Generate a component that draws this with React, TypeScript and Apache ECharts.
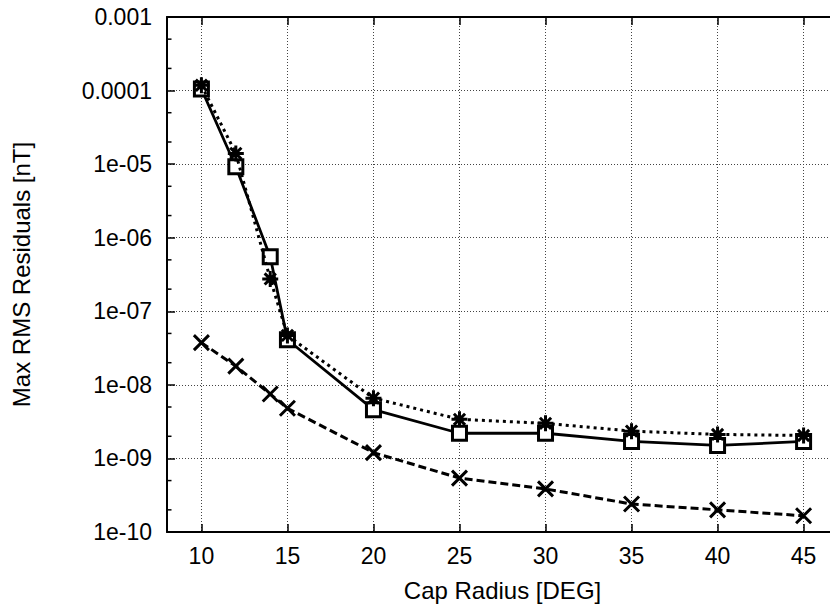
import { useEffect, useRef } from "react";
import * as echarts from "echarts";

// ---- data ----
const capRadius = [10, 12, 14, 15, 20, 25, 30, 35, 40, 45];
const squareValues = [1.05e-4, 9.2e-6, 5.5e-7, 4.1e-8, 4.6e-9, 2.2e-9, 2.2e-9, 1.7e-9, 1.5e-9, 1.7e-9];
const starValues = [1.18e-4, 1.4e-5, 2.75e-7, 4.7e-8, 6.6e-9, 3.4e-9, 3.0e-9, 2.35e-9, 2.12e-9, 2.05e-9];
const crossValues = [3.75e-8, 1.8e-8, 7.5e-9, 4.8e-9, 1.2e-9, 5.4e-10, 3.85e-10, 2.4e-10, 2.0e-10, 1.66e-10];
const xTicks = [10, 15, 20, 25, 30, 35, 40, 45];
const yTickLabels = ["1e-10", "1e-09", "1e-08", "1e-07", "1e-06", "1e-05", "0.0001", "0.001"];
const yMinorTicks = [
  2e-10, 5e-10, 2e-9, 5e-9, 2e-8, 5e-8, 2e-7, 5e-7, 2e-6, 5e-6, 2e-5, 5e-5, 2e-4, 5e-4,
];
const X_MIN = 8;
const X_MAX = 47;
const Y_MIN = 1e-10;
const Y_MAX = 1e-3;

const FONT = "'Liberation Sans', Arial, Helvetica, sans-serif";

export default function App() {
  const ref = useRef<HTMLDivElement>(null);

  useEffect(() => {
    if (!ref.current) return;
    const chart = echarts.init(ref.current, undefined, { renderer: "svg" });

    const gridLine = { color: "#444", width: 1, type: [1, 2] as number[] };
    const axisLineStyle = { color: "#000", width: 2 };

    const option: any = {
      animation: false,
      backgroundColor: "#fff",
      textStyle: { fontFamily: FONT, color: "#000" },
      grid: {
        left: 167,
        right: -8,
        top: 17,
        bottom: 78,
        containLabel: false,
        outerBoundsMode: "none",
      },
      xAxis: [
        {
          type: "value",
          min: X_MIN,
          max: X_MAX,
          position: "bottom",
          name: "Cap Radius [DEG]",
          nameLocation: "middle",
          nameGap: 46,
          nameMoveOverlap: false,
          nameTextStyle: { fontSize: 24, fontFamily: FONT, color: "#000" },
          axisLine: { show: true, onZero: false, lineStyle: axisLineStyle },
          axisTick: {
            show: true,
            inside: true,
            length: 8,
            customValues: xTicks,
            lineStyle: { color: "#000", width: 1.5 },
          },
          axisLabel: {
            customValues: xTicks,
            margin: 12,
            fontSize: 23,
            fontFamily: FONT,
            color: "#000",
          },
          splitLine: { show: true, lineStyle: gridLine },
        },
        {
          type: "value",
          min: X_MIN,
          max: X_MAX,
          position: "top",
          axisLine: { show: true, onZero: false, lineStyle: axisLineStyle },
          axisTick: {
            show: true,
            inside: true,
            length: 8,
            customValues: xTicks,
            lineStyle: { color: "#000", width: 1.5 },
          },
          axisLabel: { show: false },
          splitLine: { show: false },
        },
      ],
      yAxis: {
        type: "log",
        logBase: 10,
        min: Y_MIN,
        max: Y_MAX,
        name: "Max RMS Residuals [nT]",
        nameLocation: "middle",
        nameRotate: 90,
        nameGap: 134,
        nameMoveOverlap: false,
        nameTextStyle: { fontSize: 24, fontFamily: FONT, color: "#000" },
        axisLine: { show: true, onZero: false, lineStyle: axisLineStyle },
        axisTick: { show: true, inside: true, length: 8, lineStyle: { color: "#000", width: 1.5 } },
        axisLabel: {
          margin: 15,
          fontSize: 23,
          fontFamily: FONT,
          color: "#000",
          formatter: (v: number) => {
            const e = Math.round(Math.log10(v));
            return yTickLabels[e + 10] ?? "";
          },
        },
        splitLine: { show: true, lineStyle: gridLine },
      },
      series: [
        {
          type: "custom",
          silent: true,
          clip: false,
          z: 5,
          data: yMinorTicks.map((v) => [X_MIN, v]),
          renderItem: (_params: any, api: any) => {
            const p = api.coord([api.value(0), api.value(1)]);
            return {
              type: "line",
              shape: { x1: p[0], y1: p[1], x2: p[0] + 4.5, y2: p[1] },
              style: { stroke: "#000", lineWidth: 1.5 },
            };
          },
        },
        {
          type: "line",
          data: capRadius.map((x, i) => [x, squareValues[i]]),
          symbol: "rect",
          symbolSize: 14,
          lineStyle: { color: "#000", width: 2.8, type: "solid" },
          itemStyle: { color: "#fff", borderColor: "#000", borderWidth: 3 },
          z: 3,
        },
        {
          type: "line",
          data: capRadius.map((x, i) => [x, starValues[i]]),
          symbol: "path://M0 5L10 5M5 0L5 10M1.5 1.5L8.5 8.5M8.5 1.5L1.5 8.5",
          symbolSize: 16,
          lineStyle: { color: "#000", width: 3, type: [3, 4] },
          itemStyle: { color: "#000", borderColor: "#000", borderWidth: 3 },
          z: 4,
        },
        {
          type: "line",
          data: capRadius.map((x, i) => [x, crossValues[i]]),
          symbol: "path://M0 0L10 10M10 0L0 10",
          symbolSize: 15,
          lineStyle: { color: "#000", width: 3, type: [8, 4] },
          itemStyle: { color: "#000", borderColor: "#000", borderWidth: 3 },
          z: 4,
        },
      ],
    };

    chart.setOption(option);
    return () => chart.dispose();
  }, []);

  return (
    <div
      ref={ref}
      style={{ position: "fixed", left: 0, top: 0, width: 830, height: 610, background: "#fff" }}
    />
  );
}
